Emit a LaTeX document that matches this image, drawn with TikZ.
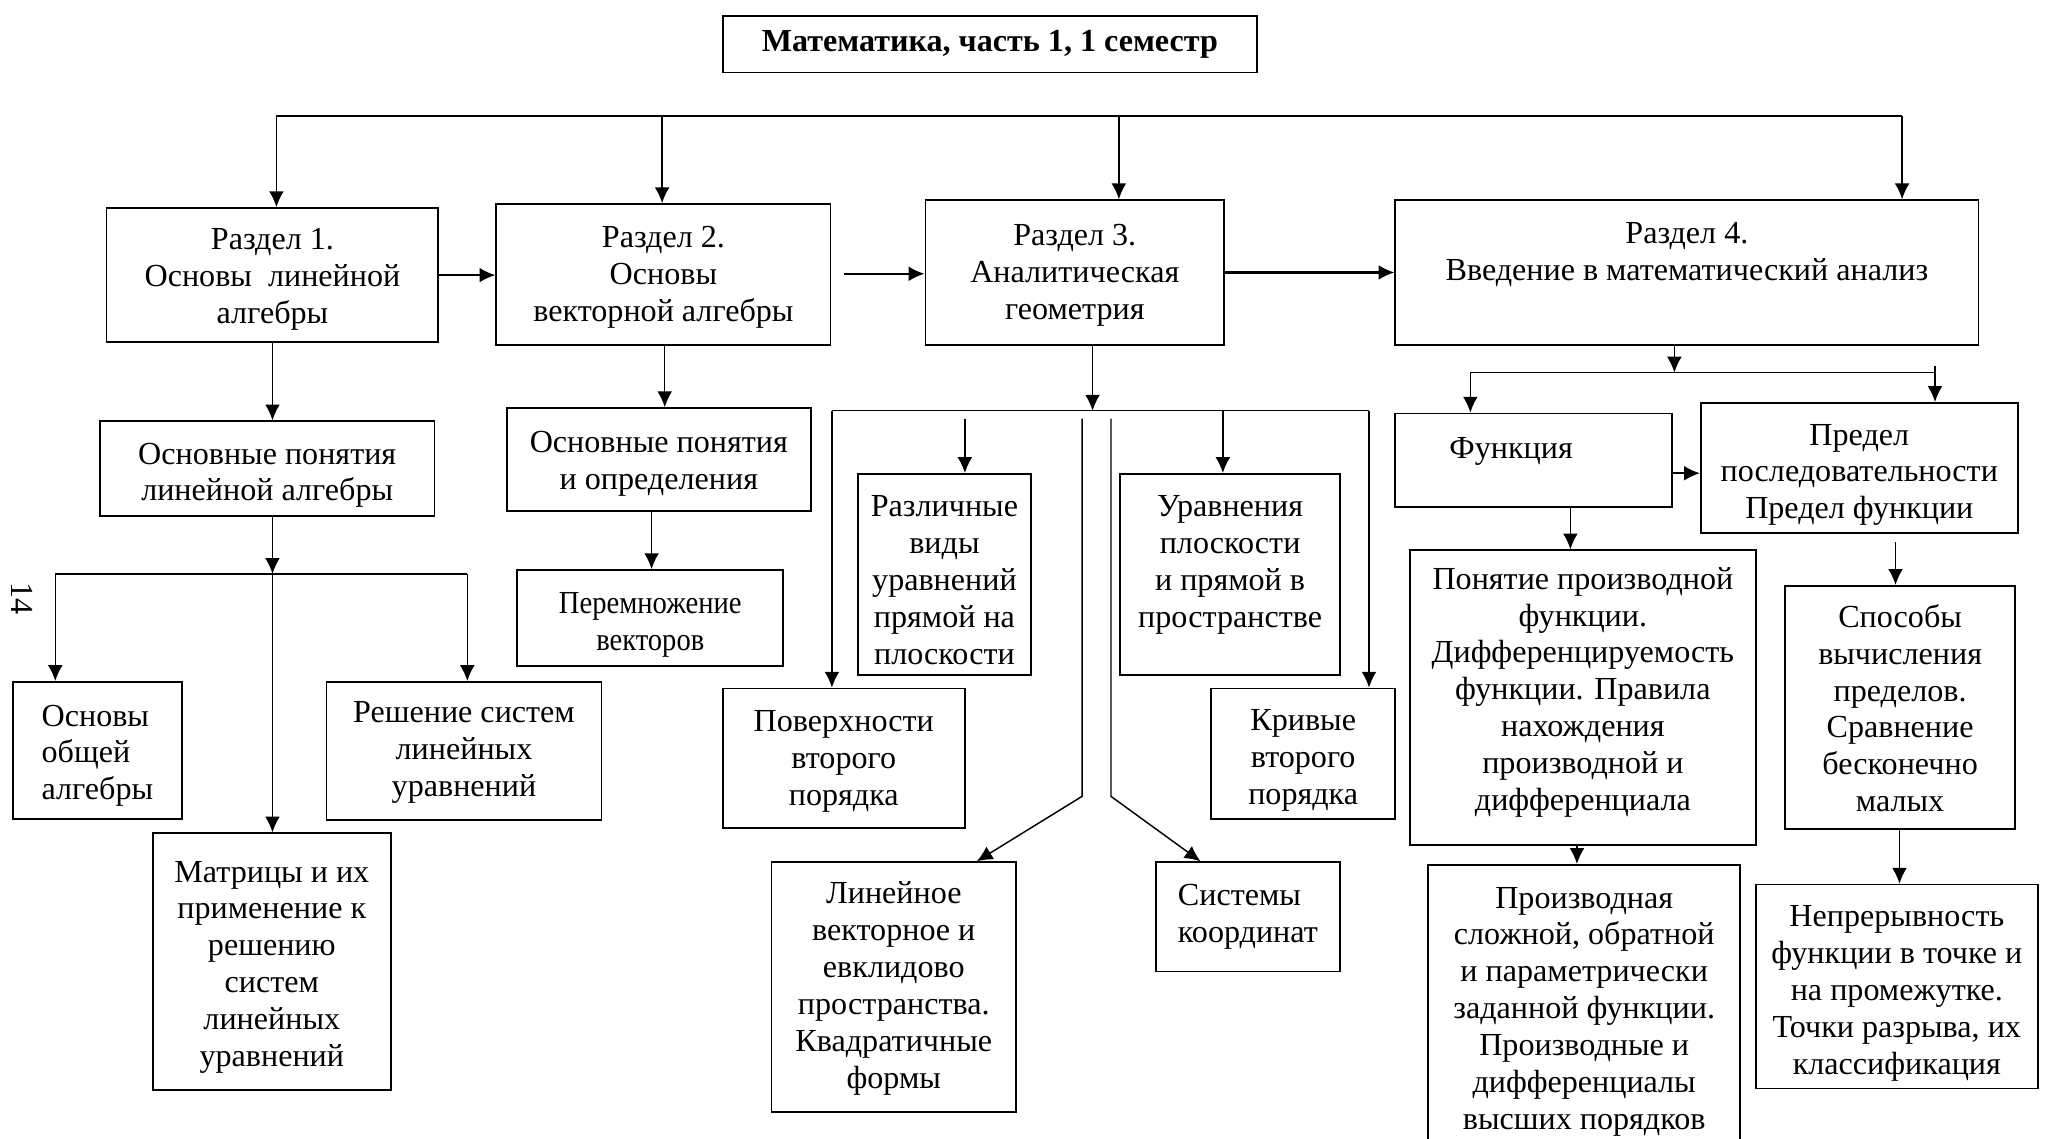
\documentclass[tikz,border=0pt]{standalone}
\usepackage{fontspec}
\setmainfont{Liberation Serif}
\usetikzlibrary{arrows.meta}
% [options]{name}{x1}{y1}{x2}{y2}{text}
\newcommand{\bx}[7][]{%
  \node[box,#1, minimum width={(#5-#3)*0.5pt}, minimum height={(#6-#4)*0.5pt}] (#2) at ({(#3+#5)/2},{(#4+#6)/2}) {#7};}
% raises the top of the first line to move the text down in its box
\newcommand{\tdn}[1]{\rule{0pt}{#1}}
\begin{document}
\begin{tikzpicture}[x=0.5pt,y=-0.5pt,
  box/.style={draw, line width=0.65pt, inner sep=0pt, align=center, font=\fontsize{12.2pt}{14pt}\selectfont},
  lbox/.style={align=left},
  su/.style={execute at end node={\rule[-#1]{0pt}{0pt}}},
  ln/.style={line width=0.55pt},
  bus/.style={line width=0.8pt},
  arr/.style={ln, -{Latex[length=6pt,width=5.6pt]}},
  barr/.style={line width=0.8pt, -{Latex[length=6pt,width=5.6pt]}},
]
\useasboundingbox (0,0) rectangle (1568,865);

% title
\bx[font=\fontsize{12.2pt}{14pt}\selectfont\bfseries]{title}{549}{12}{955}{55}{Математика, часть 1, 1 семестр}

% sections
\bx{r1}{81}{158}{333}{260}{\tdn{11.2pt}Раздел 1.\\Основы~ линейной\\алгебры}
\bx{r2}{377}{155}{631}{262}{\tdn{10.2pt}Раздел 2.\\Основы\\векторной алгебры}
\bx{r3}{703}{152}{930}{262}{\tdn{10.2pt}Раздел 3.\\Аналитическая\\геометрия}
\bx{r4}{1060}{152}{1503}{262}{\tdn{10.2pt}Раздел 4.\\Введение в математический анализ\\\strut}

% section 1 subtree
\bx{la}{76}{320}{330}{392}{\tdn{13.2pt}Основные понятия\\линейной алгебры}
\bx[lbox]{oa}{10}{518}{138}{622}{\tdn{12.2pt}Основы\\общей\\алгебры}
\bx{rs}{248}{518}{457}{623}{\tdn{9.2pt}Решение систем\\линейных\\уравнений}
\bx{mt}{116}{633}{297}{828}{\tdn{12.2pt}Матрицы и их\\применение к\\решению\\систем\\линейных\\уравнений}

% section 2 subtree
\bx{vd}{385}{310}{616}{388}{\tdn{11.2pt}Основные понятия\\и определения}
\bx{pv}{393}{433}{595}{506}{\tdn{13.2pt}\scalebox{0.89}[1]{Перемножение}\\\scalebox{0.89}[1]{векторов}}

% section 3 subtree
\bx{pov}{549}{523}{733}{629}{\tdn{10.2pt}Поверхности\\второго\\порядка}
\bx{raz}{652}{360}{783}{513}{\tdn{12.2pt}Различные\\виды\\уравнений\\прямой на\\плоскости}
\bx{lin}{586}{655}{772}{845}{\tdn{9.2pt}Линейное\\векторное и\\евклидово\\пространства.\\Квадратичные\\формы}
\bx[lbox]{sk}{878}{655}{1018}{738}{Системы\\координат}
\bx{ur}{851}{360}{1018}{513}{\tdn{16.2pt}Уравнения\\плоскости\\и прямой в\\пространстве\\\strut}
\bx{kr}{920}{523}{1060}{622}{\tdn{13.2pt}Кривые\\второго\\порядка}

% section 4 subtree
\bx{fn}{1060}{316}{1270}{383}{\tdn{17.2pt}Функция\rule{17pt}{0pt}\\\strut}
\bx{pr}{1292}{306}{1533}{405}{\tdn{13.2pt}Предел\\последовательности\\Предел функции}
\bx[su=6.7pt]{pp}{1071}{418}{1334}{642}{Понятие производной\\функции.\\Дифференцируемость\\функции. Правила\\нахождения\\производной и\\дифференциала}
\bx{sp}{1356}{445}{1531}{630}{\tdn{9.2pt}Способы\\вычисления\\пределов.\\Сравнение\\бесконечно\\малых}
\bx{ps}{1085}{657}{1322}{880}{Производная\\сложной, обратной\\и параметрически\\заданной функции.\\Производные и\\дифференциалы\\высших порядков}
\bx{nep}{1334}{672}{1548}{827}{\tdn{13.2pt}Непрерывность\\функции в точке и\\на промежутке.\\Точки разрыва, их\\классификация}

% page number
\node[rotate=-90, font=\fontsize{12.2pt}{14pt}\selectfont] (pg) at (17,455) {14};

% ---- connectors ----
% top bus
\coordinate (t1) at (210,88);
\coordinate (t2) at (503,88);
\coordinate (t3) at (850,88);
\coordinate (t4) at (1445,88);
\draw[bus] (t1) -- (t4);
\draw[arr] (t1) -- (t1 |- r1.north);
\draw[arr] (t2) -- (t2 |- r2.north);
\draw[arr] (t3) -- (t3 |- r3.north);
\draw[arr] (t4) -- (t4 |- r4.north);

% horizontal arrows between sections
\draw[barr] (r1.east) -- (r1.east -| r2.west);
\coordinate (r23) at (641,208);
\draw[barr] (r23) -- (r23 -| r3.west);
\draw[barr] (r3.east) -- (r3.east -| r4.west);

% section 1
\coordinate (s1) at (207,262);
\draw[arr] (s1 |- r1.south) -- (s1 |- la.north);
\coordinate (b1m) at (207,436);
\coordinate (b1l) at (42,436);
\coordinate (b1r) at (355,436);
\draw[arr] (b1m |- la.south) -- (b1m);
\draw[ln] (b1l) -- (b1r);
\draw[arr] (b1l) -- (b1l |- oa.north);
\draw[arr] (b1r) -- (b1r |- rs.north);
\draw[arr] (b1m) -- (b1m |- mt.north);

% section 2
\coordinate (s2) at (505,262);
\draw[arr] (s2 |- r2.south) -- (s2 |- vd.north);
\coordinate (s2b) at (495,388);
\draw[arr] (s2b |- vd.south) -- (s2b |- pv.north);

% section 3
\coordinate (b3m) at (830,312);
\coordinate (b3l) at (632,312);
\coordinate (b3r) at (1040,312);
\draw[arr] (b3m |- r3.south) -- (b3m);
\draw[ln] (b3l) -- (b3r);
\draw[arr] (b3l) -- (b3l |- pov.north);
\coordinate (c1) at (733,318);
\draw[arr] (c1) -- (c1 |- raz.north);
\coordinate (c4) at (929,312);
\draw[arr] (c4) -- (c4 |- ur.north);
\draw[arr] (b3r) -- (b3r |- kr.north);
\coordinate (c2) at (822,318);
\coordinate (c2b) at (822,605);
\coordinate (c2e) at (742,655);
\draw[arr] (c2) -- (c2b) -- (c2e |- lin.north);
\coordinate (c3) at (844,318);
\coordinate (c3b) at (844,605);
\coordinate (c3e) at (912,655);
\draw[arr] (c3) -- (c3b) -- (c3e |- sk.north);

% section 4
\coordinate (b4m) at (1272,283);
\coordinate (b4l) at (1117,283);
\coordinate (b4r) at (1470,283);
\draw[arr] (b4m |- r4.south) -- (b4m);
\draw[ln] (b4l) -- (b4r);
\draw[ln] (b4r) -- ++(0,-5);
\draw[arr] (b4l) -- (b4l |- fn.north);
\draw[arr] (b4r) -- (b4r |- pr.north);
\draw[arr] ([yshift=-5pt]fn.east) -- ([yshift=-5pt]fn.east -| pr.west);
\coordinate (d1) at (1193,383);
\draw[arr] (d1 |- fn.south) -- (d1 |- pp.north);
\coordinate (d2) at (1440,412);
\draw[arr] (d2) -- (d2 |- sp.north);
\coordinate (d3) at (1198,642);
\draw[arr] (d3 |- pp.south) -- (d3 |- ps.north);
\coordinate (d4) at (1443,630);
\draw[arr] (d4 |- sp.south) -- (d4 |- nep.north);
\end{tikzpicture}
\end{document}
